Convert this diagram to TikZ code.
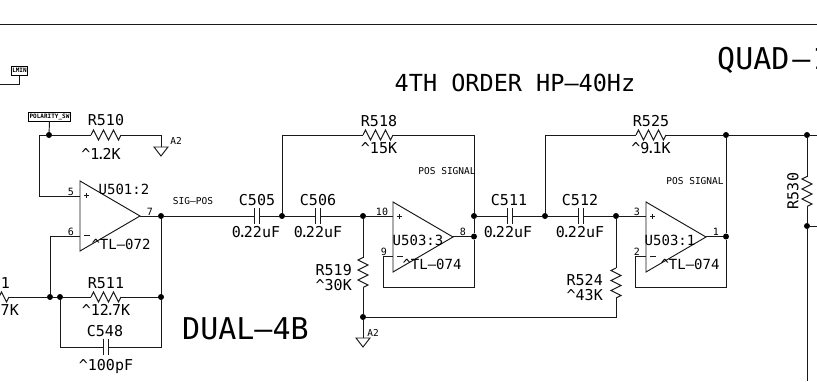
\documentclass[tikz,border=0pt]{standalone}
\usepackage{fontspec}
\setmainfont{DejaVu Sans Mono}
\usetikzlibrary{calc}
\definecolor{wire}{gray}{0.1}
\newcommand{\dt}{\kern-3pt.\kern-3pt}
\tikzset{
  x=1pt,y=-1pt,
  wire/.style={draw=wire,line width=.95pt},
  dot/.style={circle,fill=black,inner sep=0pt,minimum size=6pt},
  lab/.style={inner sep=0pt,font=\fontsize{15}{15}\selectfont,text=black},
  amp/.style={inner sep=0pt,font=\fontsize{14}{14}\selectfont,text=black},
  big/.style={inner sep=0pt,font=\fontsize{30}{30}\selectfont,text=black},
  mid/.style={inner sep=0pt,font=\fontsize{23.5}{24}\selectfont,text=black},
  pin/.style={inner sep=0pt,font=\fontsize{10}{10}\selectfont,text=black},
  small/.style={inner sep=0pt,font=\fontsize{9.5}{10}\selectfont,text=black},
  tag/.style={draw=black,line width=1pt,inner sep=1pt,minimum height=9pt,font=\fontsize{6}{6}\bfseries\selectfont},
  pics/resh/.style={code={\draw[wire] (-15,0)--(-12.5,-5)--(-7.5,5)--(-2.5,-5)--(2.5,5)--(7.5,-5)--(12.5,5)--(15,0);}},
  pics/resv/.style={code={\draw[wire] (0,-15)--(-5,-12.5)--(5,-7.5)--(-5,-2.5)--(5,2.5)--(-5,7.5)--(5,12.5)--(0,15);}},
  pics/capp/.style={code={\draw[wire] (-2.5,-8)--(-2.5,8) (2.5,-8)--(2.5,8);}},
  pics/gnd/.style={code={\draw[wire] (-7,0)--(7,0)--(0,9)--cycle;}},
  pics/opamp/.style={code={\draw[wire] (0,0)--(60,35)--(0,70)--cycle;
     \draw[wire,line width=.8pt] (4,14.5)--(9,14.5) (6.5,12)--(6.5,17) (4,54)--(10,54);}}
}
\begin{document}
\begin{tikzpicture}
\useasboundingbox (0,0) rectangle (817,381);
\fill[white] (0,0) rectangle (817,381);
\draw[wire] (0,24)--(817,24);
% junctions
\foreach \n/\x/\y in {ja/49/135,jb/161/216,jc/50/297,jd/60/297,je/161/297,jf/282/216,jg/363/216,jh/474/216,ji/474/236.5,jj/545/216,jk/616/216,jl/726/236.5,jm/726/135,jn/807/135,jo/807/226,jp/363/317}
  \node[dot] (\n) at (\x,\y) {};
% opamps
\path (80,181) pic {opamp} (393,202) pic {opamp} (646,202) pic {opamp};
\coordinate (ua5) at (80,196); \coordinate (ua6) at (80,236); \coordinate (ua7) at (140,216);
\coordinate (ub10) at (393,216); \coordinate (ub9) at (393,256); \coordinate (ub8) at (453,236.5);
\coordinate (uc3) at (646,216); \coordinate (uc2) at (646,256); \coordinate (uc1) at (706,236.5);
% tags
\node[tag] (lmin) at (19.5,70.5) {LMIN};
\node[tag] (pol) at (49.5,116.5) {POLARITY\_SW};
\coordinate (w0) at (0,84);
\draw[wire] (w0)-|(lmin.south);
\draw[wire] (pol.south)--(ja);
% R510
\coordinate (r510) at (106,135);
\coordinate (g1) at (161,147);
\draw[wire] (ua5)-|(39,135)--(ja)--(91,135);
\draw[wire] (121,135)-|(g1);
\path (r510) pic {resh}; \path (g1) pic {gnd};
% U501 fb
\draw[wire] (ua6)-|(jc);
\draw[wire] (ua7)--(jb)--(240,216);
\draw[wire] (jb)--(je);
\coordinate (rleft) at (-6,297);
\path (rleft) pic {resh};
\draw[wire] (9,297)--(jc)--(jd)--(91,297) (121,297)--(je);
\path (106,297) pic {resh};
\coordinate (c548) at (105.5,347);
\path (c548) pic {capp};
\draw[wire] (jd)|-(103,347) (108,347)-|(je);
% caps on main line
\path (257,216) pic {capp} (317.5,216) pic {capp} (509.5,216) pic {capp} (580.5,216) pic {capp};
\draw[wire] (240,216)--(254.5,216) (259.5,216)--(jf)--(315,216) (320,216)--(jg)--(ub10);
\draw[wire] (jh)--(507,216) (512,216)--(jj)--(578,216) (583,216)--(jk)--(uc3);
% R518 / R525
\path (378,135) pic {resh} (651,135) pic {resh};
\draw[wire] (jf)|-(363,135) (393,135)-|(jh);
\draw[wire] (jj)|-(636,135) (666,135)--(jm)--(jn)--(817,135);
% outputs and feedback
\draw[wire] (ub8)--(ji) (jh)--(ji);
\draw[wire] (ub9)-|(383,287)-|(ji);
\draw[wire] (uc1)--(jl) (jm)--(jl);
\draw[wire] (uc2)-|(635,287)-|(jl);
% R519, R524, R530
\path (363,272.5) pic {resv} (616,283) pic {resv} (807,191.5) pic {resv};
\draw[wire] (jg)--(363,257.5) (363,287.5)--(jp);
\draw[wire] (jk)--(616,268) (616,298)|-(jp);
\coordinate (g2) at (363,338);
\draw[wire] (jp)--(g2); \path (g2) pic {gnd};
\draw[wire] (jn)--(807,176.5) (807,206.5)--(jo)--(807,381) (jo)--(817,226);
% labels
\node[big,anchor=west] at (717,60.5) {QUAD\kern3pt—\kern2pt 1};
\node[mid] at (515,83) {4TH ORDER HP—40Hz};
\node[big,anchor=west] at (182,329) {DUAL—4B};
\node[lab] at (106,120) {R510};
\node[lab] at (101,154) {\textasciicircum1\dt2K};
\node[small] at (176,141) {A2};
\node[small] at (373,333) {A2};
\node[amp] at (124,189) {U501:2};
\node[amp] at (121,244) {\textasciicircum TL—072};
\node[small] at (193,201) {SIG—POS};
\node[lab] at (257,200) {C505};
\node[lab] at (256,232) {0\dt22uF};
\node[lab] at (318,200) {C506};
\node[lab] at (318,232) {0\dt22uF};
\node[lab] at (379,121) {R518};
\node[lab] at (379,148) {\textasciicircum15K};
\node[small] at (447,171) {POS SIGNAL};
\node[pin] at (382,212) {10};
\node[pin] at (384,252) {9};
\node[pin] at (463,232) {8};
\node[amp] at (418,240) {U503:3};
\node[amp] at (432,264) {\textasciicircum TL—074};
\node[lab] at (509,200) {C511};
\node[lab] at (508,232) {0\dt22uF};
\node[lab] at (580,200) {C512};
\node[lab] at (580,232) {0\dt22uF};
\node[lab] at (651,121) {R525};
\node[lab] at (651,148) {\textasciicircum9\dt1K};
\node[small] at (695,181) {POS SIGNAL};
\node[pin] at (637,212) {3};
\node[pin] at (637,252) {2};
\node[pin] at (716,232) {1};
\node[amp] at (670,240) {U503:1};
\node[amp] at (690,264) {\textasciicircum TL—074};
\node[lab,rotate=90] at (793,191) {R530};
\node[lab,anchor=east] at (603,280) {R524};
\node[lab,anchor=east] at (603,295) {\textasciicircum43K};
\node[lab,anchor=east] at (352,270) {R519};
\node[lab,anchor=east] at (352,285) {\textasciicircum30K};
\node[lab] at (106,283) {R511};
\node[lab] at (106,310) {\textasciicircum12\dt7K};
\node[lab] at (105,331) {C548};
\node[lab] at (106,366) {\textasciicircum100pF};
\node[lab,anchor=east] at (10,283) {01};
\node[lab,anchor=east] at (19,310) {7K};
\node[pin] at (71,192) {5};
\node[pin] at (71,232) {6};
\node[pin] at (150,212) {7};
\end{tikzpicture}
\end{document}
